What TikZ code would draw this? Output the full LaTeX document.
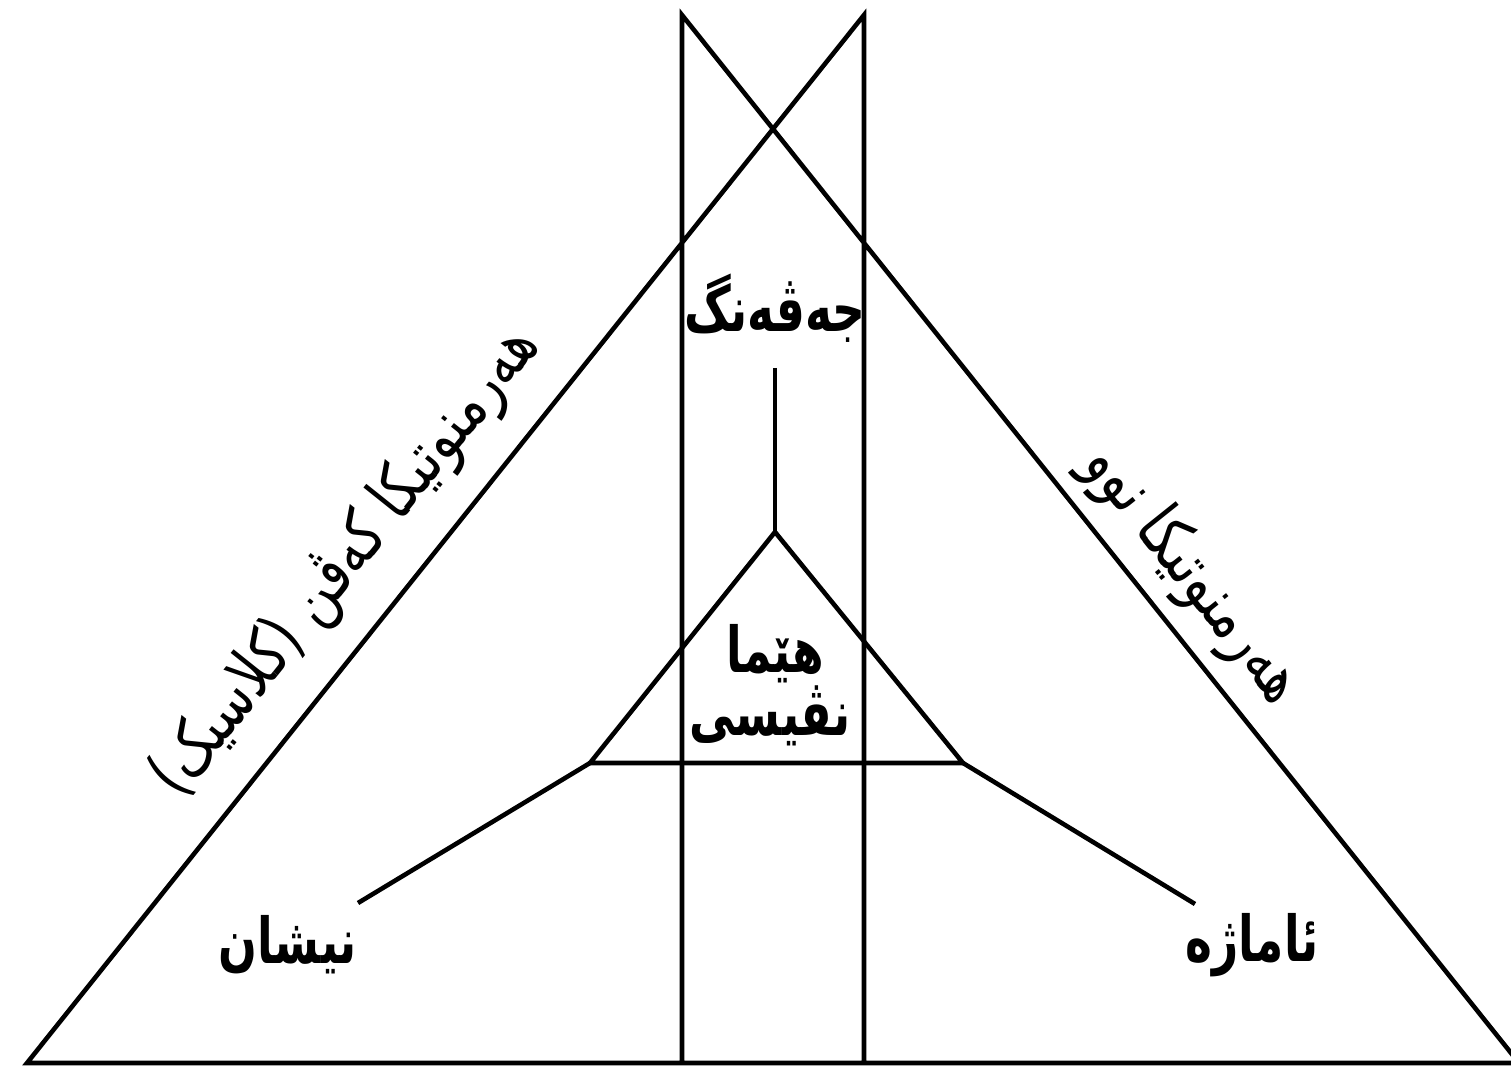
\documentclass[tikz,border=0pt]{standalone}
\usepackage{fontspec}
\newfontfamily\arabicfont[Script=Arabic, FakeStretch=0.78, BoldFeatures={FakeStretch=0.72}]{DejaVu Sans}
\TeXXeTstate=1
\begin{document}
\begin{tikzpicture}[x=0.01cm, y=-0.01cm, line width=1.3pt,
  lbl/.style={font=\arabicfont\bfseries\fontsize{18}{22}\selectfont, inner sep=1pt},
  side/.style={font=\arabicfont\fontsize{19}{23}\selectfont, inner sep=1pt}]
  \useasboundingbox (0,0) rectangle (1511,1067);
  \coordinate (bl) at (27,1063);
  \coordinate (br) at (1519,1063);
  \coordinate (tl) at (682,15);
  \coordinate (tr) at (864,15);
  \coordinate (bml) at (682,1063);
  \coordinate (bmr) at (864,1063);
  \coordinate (apex) at (775,532);
  \coordinate (sl) at (590,763);
  \coordinate (sr) at (963,763);
  \coordinate (stem) at (775,368);
  \coordinate (nl) at (358,903);
  \coordinate (nr) at (1195,904);
  \node[lbl] (jeveng) at (775,308) {\beginR جەڤەنگ\endR};
  \node[lbl] (hema) at (775,654) {\beginR هێما\endR};
  \node[lbl] (nvisi) at (770,716) {\beginR نڤیسی\endR};
  \node[lbl] (nishan) at (288,945) {\beginR نیشان\endR};
  \node[lbl] (amaje) at (1252,945) {\beginR ئاماژە\endR};
  \node[side, rotate=51.4] (old) at (347,562) {\beginR هەرمنوتیکا کەڤن (کلاسیک)\endR};
  \node[side, rotate=-51.4] (new) at (1192,575) {\beginR هەرمنوتیکا نوو\endR};
  \draw (bml) -- (tl) -- (br) -- (bl) -- (tr) -- (bmr);
  \draw (sl) -- (apex) -- (sr) -- cycle;
  \draw (stem) -- (apex);
  \draw (sl) -- (nl);
  \draw (sr) -- (nr);
\end{tikzpicture}
\end{document}
